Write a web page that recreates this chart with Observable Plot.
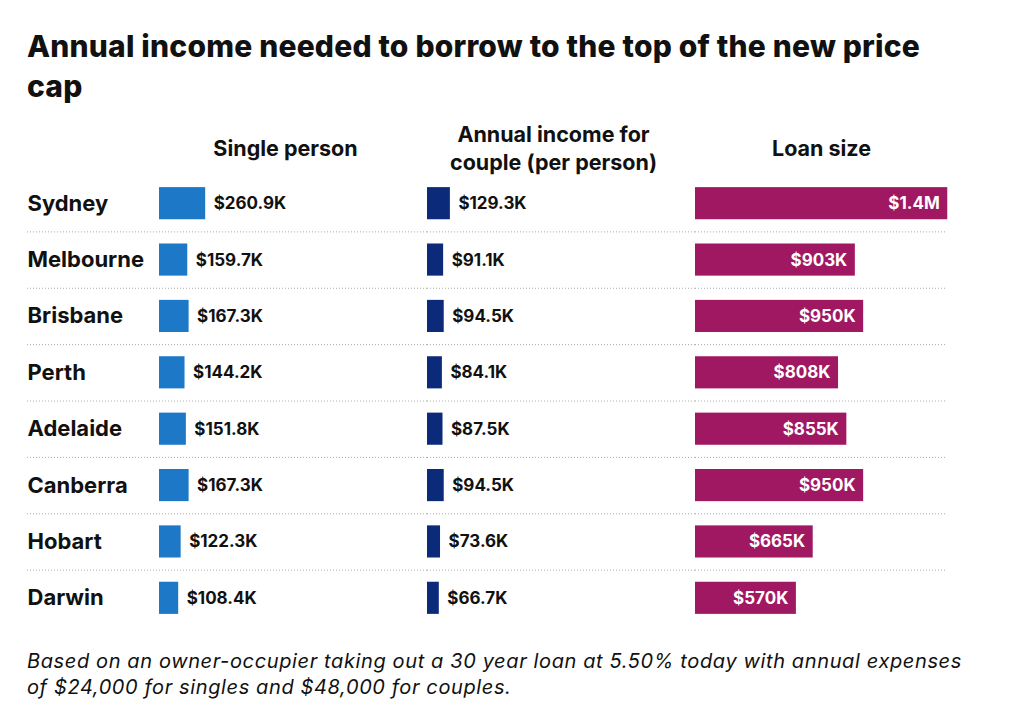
<!DOCTYPE html>
<html>
<head>
<meta charset="utf-8">
<script src="https://cdn.jsdelivr.net/npm/d3@7"></script>
<script src="https://cdn.jsdelivr.net/npm/@observablehq/plot@0.6"></script>
<style>
  html, body { margin: 0; padding: 0; background: #fff; }
  body { width: 1024px; height: 711px; position: relative; overflow: hidden; font-family: Inter, "Noto Sans", sans-serif; color: #111; }
  #title { position: absolute; left: 27px; top: 26px; font-size: 30px; line-height: 40px; font-weight: 800; letter-spacing: 0.2px; }
  #chart { position: absolute; left: 0; top: 110px; }
  #caption { position: absolute; left: 27px; top: 648px; font-size: 20px; line-height: 26px; font-style: italic; font-weight: 400; letter-spacing: 0.62px; color: #111; }
</style>
</head>
<body>
<div id="title">Annual income needed to borrow to the top of the new price<br>cap</div>
<div id="chart"></div>
<div id="caption">Based on an owner-occupier taking out a 30 year loan at 5.50% today with annual expenses<br>of $24,000 for singles and $48,000 for couples.</div>
<script>
// ---- data ----
const cities = ["Sydney", "Melbourne", "Brisbane", "Perth", "Adelaide", "Canberra", "Hobart", "Darwin"];
const singleIncome = [260.9, 159.7, 167.3, 144.2, 151.8, 167.3, 122.3, 108.4]; // $K
const coupleIncome = [129.3, 91.1, 94.5, 84.1, 87.5, 94.5, 73.6, 66.7];        // $K per person
const loanSize = [1425, 903, 950, 808, 855, 950, 665, 570];                      // $K
const columns = ["single", "couple", "loan"];
const columnTitles = ["Single person", "Annual income for\ncouple (per person)", "Loan size"];
const columnColors = ["#1e78c8", "#0c2a7a", "#a01862"];

// ---- build table ----
const series = {single: singleIncome, couple: coupleIncome, loan: loanSize};
const fmt = (col, v) => col === "loan"
  ? (v >= 1000 ? `$${(v / 1000).toFixed(1)}M` : `$${v}K`)
  : `$${v.toFixed(1)}K`;
const table = columns.flatMap(col => cities.map((city, i) => ({
  col, city, value: series[col][i], label: fmt(col, series[col][i])
})));
const incomeRows = table.filter(d => d.col !== "loan");
const loanRows = table.filter(d => d.col === "loan");
const headers = columns.map((col, i) => ({col, title: columnTitles[i]}));
const seps = cities.slice(0, -1);
const sepData = col => seps.map(city => ({col, city}));

const height = 521, marginTop = 65, marginBottom = 5;
const step = (height - marginTop - marginBottom) / cities.length;

const chart = Plot.plot({
  width: 1024,
  height,
  marginTop,
  marginBottom,
  marginLeft: 159,
  marginRight: 61,
  style: {fontFamily: "Inter, 'Noto Sans', sans-serif", color: "#111", background: "transparent"},
  fx: {domain: columns, padding: 0, axis: null},
  x: {domain: [0, 1514], axis: null},
  y: {domain: cities, paddingInner: 0.43, paddingOuter: 0.215, round: false, axis: null},
  color: {domain: columns, range: columnColors},
  marks: [
    Plot.ruleY(sepData("single"), {fx: "col", y: "city", dy: step / 2, insetLeft: -132, stroke: "#aaa", strokeDasharray: "1,2"}),
    Plot.ruleY(sepData("couple"), {fx: "col", y: "city", dy: step / 2, stroke: "#aaa", strokeDasharray: "1,2"}),
    Plot.ruleY(sepData("loan"), {fx: "col", y: "city", dy: step / 2, insetRight: 16, stroke: "#aaa", strokeDasharray: "1,2"}),
    Plot.barX(table, {fx: "col", y: "city", x: "value", fill: "col"}),
    Plot.text(incomeRows, {fx: "col", y: "city", x: "value", text: "label", dx: 8, textAnchor: "start", fontSize: 17, fontWeight: 700, fill: "#111"}),
    Plot.text(loanRows, {fx: "col", y: "city", x: "value", text: "label", dx: -8, textAnchor: "end", fontSize: 17, fontWeight: 700, fill: "white"}),
    Plot.text(cities.map(city => ({col: "single", city})), {fx: "col", y: "city", frameAnchor: "left", dx: -132, textAnchor: "start", text: "city", fontSize: 22, fontWeight: 700, fill: "#111"}),
    Plot.text(headers, {fx: "col", text: "title", frameAnchor: "top", dy: -28, dx: -8, lineAnchor: "middle", lineHeight: 1.3, fontSize: 21.5, fontWeight: 700, fill: "#111"})
  ]
});
document.getElementById("chart").appendChild(chart);
</script>
</body>
</html>
